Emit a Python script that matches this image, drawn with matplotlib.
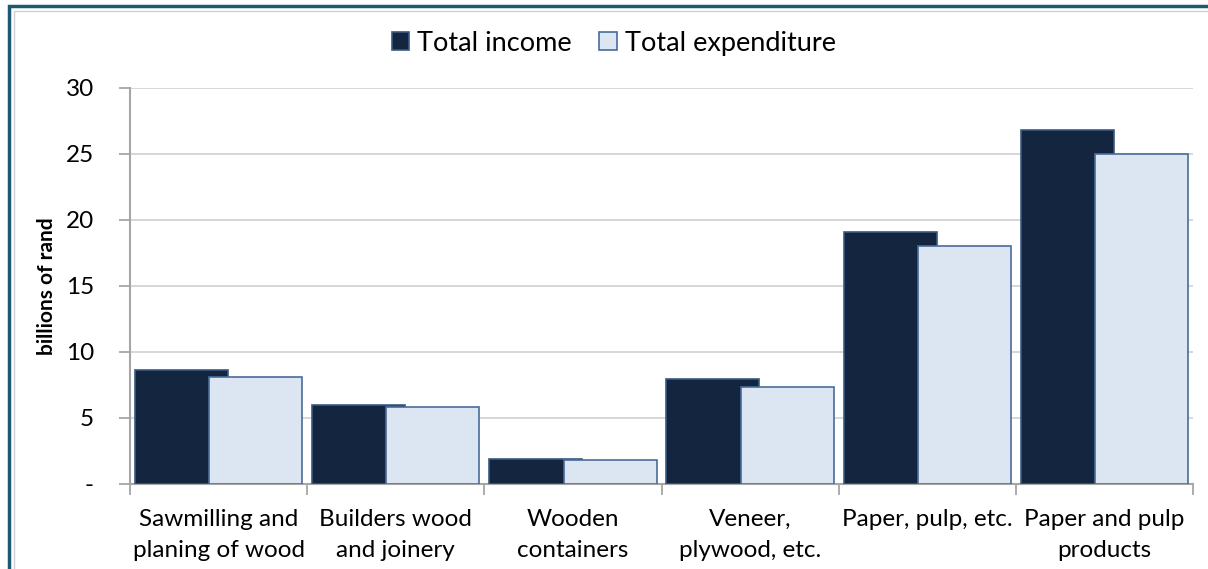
import matplotlib.pyplot as plt
import numpy as np
from matplotlib.patches import Rectangle

plt.rcParams['font.family'] = ['Lato', 'DejaVu Sans']

categories = [
    "Sawmilling and\nplaning of wood",
    "Builders wood\nand joinery",
    "Wooden\ncontainers",
    "Veneer,\nplywood, etc.",
    "Paper, pulp, etc.",
    "Paper and pulp\nproducts",
]
total_income = [8.65, 5.98, 1.9, 7.95, 19.04, 26.77]
total_expenditure = [8.08, 5.86, 1.82, 7.35, 17.98, 25.0]
y_ticks = [0, 5, 10, 15, 20, 25, 30]
y_tick_labels = ["-", "5", "10", "15", "20", "25", "30"]

income_color = "#14253f"
income_edge = "#3a5a82"
exp_color = "#dce6f2"
exp_edge = "#4a6c98"
grid_color = "#d4d4d4"
axis_color = "#a6a6a6"

fig = plt.figure(figsize=(12.08, 5.69), dpi=100)
ax = fig.add_axes([0.1076, 0.1494, 0.88, 0.6968])

x = np.arange(len(categories))
w = 0.525
ax.bar(x - 0.21, total_income, width=w, color=income_color,
       edgecolor=income_edge, linewidth=1.2, label="Total income", zorder=3)
ax.bar(x + 0.21, total_expenditure, width=w, color=exp_color,
       edgecolor=exp_edge, linewidth=1.2, label="Total expenditure", zorder=4)

ax.set_xlim(-0.5, len(categories) - 0.5)
ax.set_ylim(0, 30)
ax.set_yticks(y_ticks)
ax.set_yticklabels(y_tick_labels, fontsize=17.5)
ax.yaxis.grid(True, color=grid_color, linewidth=1.3, zorder=0)

ax.set_xticks(x)
ax.set_xticklabels(categories, fontsize=17.5, linespacing=1.6)
ax.tick_params(axis="x", length=0, pad=18)
ax.set_xticks(np.arange(-0.5, len(categories)), minor=True)
ax.tick_params(axis="x", which="minor", length=8, color=axis_color, width=1.3)
ax.tick_params(axis="y", length=8, color=axis_color, width=1.3, pad=18)

for side in ["top", "right"]:
    ax.spines[side].set_visible(False)
for side in ["left", "bottom"]:
    ax.spines[side].set_color(axis_color)
    ax.spines[side].set_linewidth(1.5)

ax.set_ylabel("billions of rand", fontsize=15, fontweight="bold", labelpad=6)

ax.legend(loc="center", bbox_to_anchor=(0.455, 1.112), ncol=2,
          frameon=False, fontsize=19.5, handlelength=0.65, handleheight=0.65,
          handletextpad=0.3, columnspacing=1.0)

# outer frame around the chart
fig.patches.append(Rectangle((0.0075, -0.05), 1.2, 1.04, transform=fig.transFigure,
                             fill=False, edgecolor="#1d5a72", linewidth=2.5))
fig.patches.append(Rectangle((0.0115, -0.05), 1.2, 1.031, transform=fig.transFigure,
                             fill=False, edgecolor="#d0d0d0", linewidth=1.0))

fig.savefig("out.png", dpi=100)
